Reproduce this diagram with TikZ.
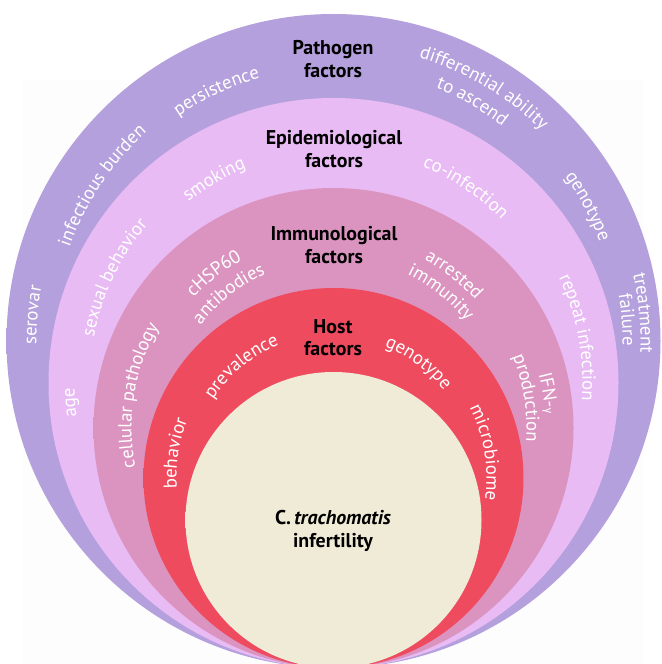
\documentclass[tikz,border=0pt]{standalone}
\usepackage{fontspec}
\setmainfont{PT Sans}
\newfontfamily\grkfont{Fira Sans}
\usetikzlibrary{decorations.text}

\definecolor{patbase}{HTML}{B4A0DC}
\definecolor{patrim}{HTML}{A592D4}
\definecolor{epibase}{HTML}{E9BBF4}
\definecolor{epirim}{HTML}{DCAEEA}
\definecolor{immbase}{HTML}{DB94C0}
\definecolor{immrim}{HTML}{CC87B3}
\definecolor{hostbase}{HTML}{EF4B5F}
\definecolor{hostrim}{HTML}{DE4356}
\definecolor{corebase}{HTML}{F0EBD6}
\definecolor{corerim}{HTML}{E1DDC5}

\pgfdeclareradialshading{patshade}{\pgfpoint{0bp}{0bp}}{color(0bp)=(patbase); color(45bp)=(patbase); color(50bp)=(patrim)}
\pgfdeclareradialshading{epishade}{\pgfpoint{0bp}{0bp}}{color(0bp)=(epibase); color(45bp)=(epibase); color(50bp)=(epirim)}
\pgfdeclareradialshading{immshade}{\pgfpoint{0bp}{0bp}}{color(0bp)=(immbase); color(45bp)=(immbase); color(50bp)=(immrim)}
\pgfdeclareradialshading{hostshade}{\pgfpoint{0bp}{0bp}}{color(0bp)=(hostbase); color(44bp)=(hostbase); color(50bp)=(hostrim)}
\pgfdeclareradialshading{coreshade}{\pgfpoint{0bp}{0bp}}{color(0bp)=(corebase); color(44bp)=(corebase); color(50bp)=(corerim)}

\newcommand\lblfont{\fontsize{16}{19}\selectfont}
% white label bent round a ring: centre, angle, radius, text
\newcommand\ringlabel[4]{\path[shift={(#1)},decorate,
  decoration={text along path,text align=center,text color=white,text={|\lblfont|#4}}]
  ({#2+60}:#3) arc[start angle={#2+60},end angle={#2-60},radius=#3];}

\begin{document}
\begin{tikzpicture}[x=0.3mm,y=0.3mm,
  head/.style={align=center,inner sep=0pt,font=\fontsize{17}{19}\selectfont\bfseries}]
		\useasboundingbox (0,0) rectangle (661,664);
		\clip (0,0) rectangle (661,664);
		\fill[black!0.8] (23,0) rectangle (643,584);
		% discs, all touching at the bottom
		\coordinate (cpat) at (333.5,323);
		\coordinate (cepi) at (333.5,281);
		\coordinate (cimm) at (333.5,236);
		\coordinate (chost) at (333.5,186);
		\coordinate (ccore) at (333.5,144);
		\foreach \c/\r in {pat/327, epi/285, imm/240, host/190, core/148}
		\shade[shading=\c shade] (c\c) circle[radius=\r];
		% headings
		\node[head] (pat) at (333,605) {Pathogen\\factors};
		\node[head] (epi) at (334,515) {Epidemiological\\factors};
		\node[head] (imm) at (334,419) {Immunological\\factors};
		\node[head] (host) at (333,326) {Host\\factors};
		\node[head] (core) at (333,133) {C.\,\textit{trachomatis}\\infertility};
		% pathogen ring
		\ringlabel{cpat}{115.1}{273}{persistence}
		\ringlabel{cpat}{146.1}{280}{infectious burden}
		\ringlabel{cpat}{175.1}{297}{serovar}
		\ringlabel{cpat}{59.3}{296}{differential ability}
		\ringlabel{cpat}{59.9}{273}{to ascend}
		\ringlabel{cpat}{27.9}{284}{genotype}
		\ringlabel{cpat}{5.2}{307}{treatment}
		\ringlabel{cpat}{4.2}{289}{failure}
		% epidemiological ring
		\ringlabel{cepi}{120.4}{232}{smoking}
		\ringlabel{cepi}{154.4}{244}{sexual behavior}
		\ringlabel{cepi}{184.2}{259}{age}
		\ringlabel{cepi}{55.9}{234}{co-infection}
		\ringlabel{cepi}{10.5}{249}{repeat infection}
		% immunological ring
		\ringlabel{cimm}{127.8}{191}{cHSP60}
		\ringlabel{cimm}{128}{168}{antibodies}
		\ringlabel{cimm}{170.5}{202}{cellular pathology}
		\ringlabel{cimm}{51.8}{191}{arrested}
		\ringlabel{cimm}{51.5}{170}{immunity}
		\ringlabel{cimm}{9.2}{212}{IFN-|\grkfont|γ}
		\ringlabel{cimm}{8.8}{193}{production}
		% host ring
		\ringlabel{chost}{129.5}{144}{prevalence}
		\ringlabel{chost}{53.6}{141}{genotype}
		\ringlabel{chost}{171.2}{157}{behavior}
		\ringlabel{chost}{9.4}{153}{microbiome}
		\end{tikzpicture}
\end{document}
